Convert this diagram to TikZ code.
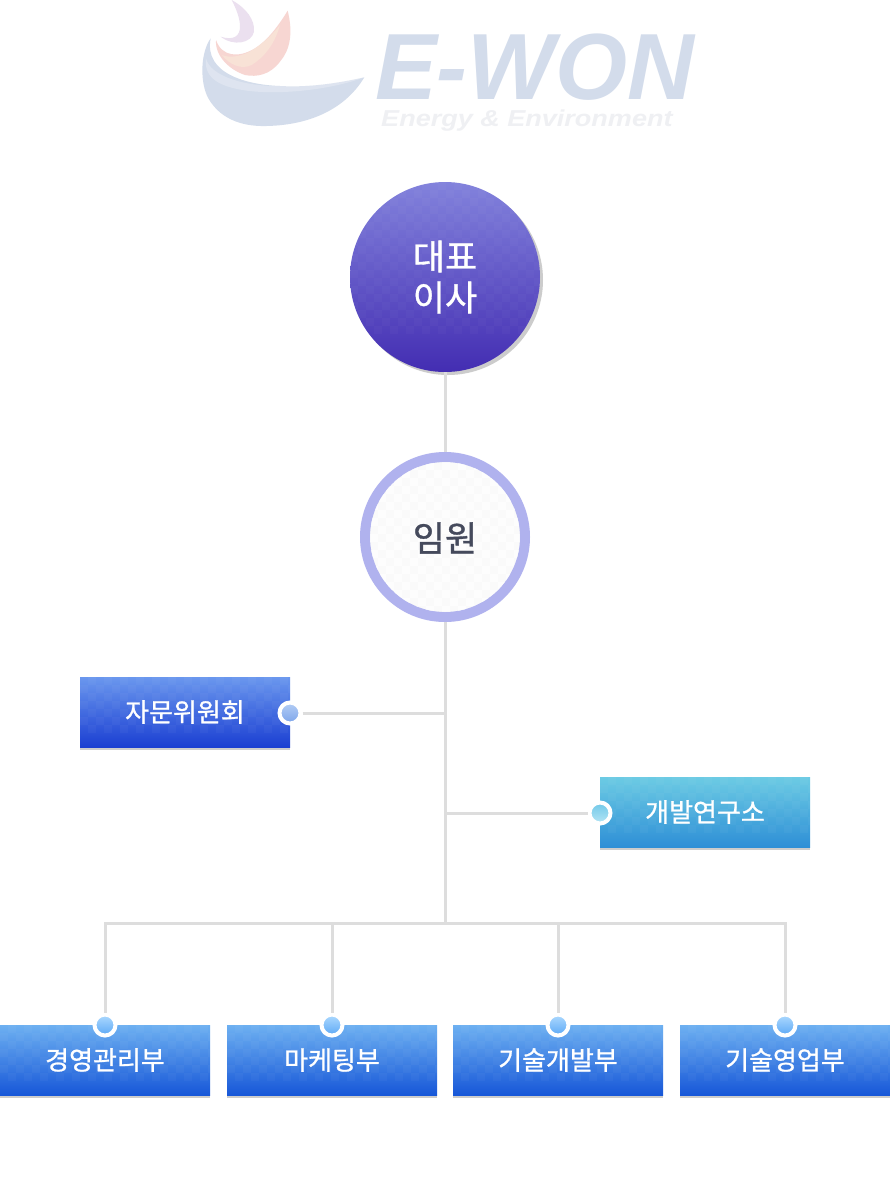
\documentclass[tikz,border=0pt]{standalone}
\usepackage{fontspec}
\setmainfont{Liberation Sans}
\newfontfamily\krfont[RawFeature={embolden=1.0}]{Noto Sans CJK KR}
\definecolor{linegray}{HTML}{DDDDDD}
\definecolor{edgegray}{HTML}{CCCCCC}
\definecolor{logoblue}{HTML}{D3DCEB}
\definecolor{logored}{HTML}{F7D6D2}
\definecolor{logoorange}{HTML}{F8E2D6}
\definecolor{logopurple}{HTML}{EBE0EF}
\definecolor{logogray}{HTML}{EFF0F3}
\definecolor{ceotop}{HTML}{8282DC}
\definecolor{ceomid}{HTML}{6563D0}
\definecolor{ceobot}{HTML}{432DB2}
\definecolor{ringblue}{HTML}{B0B2EE}
\definecolor{ringfill}{HTML}{FAFAFA}
\definecolor{textdark}{HTML}{454A5C}
\definecolor{advtop}{HTML}{6A97EE}
\definecolor{advmid}{HTML}{5683E8}
\definecolor{advbot}{HTML}{1B3FD2}
\definecolor{labtop}{HTML}{6CCBE4}
\definecolor{labmid}{HTML}{58B8E0}
\definecolor{labbot}{HTML}{2E8FD6}
\definecolor{deptop}{HTML}{6DB0F1}
\definecolor{depmid}{HTML}{5EA2EC}
\definecolor{depbot}{HTML}{1757D8}
\definecolor{advdottop}{HTML}{B4CEF5}
\definecolor{advdotbot}{HTML}{7CA4EA}
\definecolor{labdottop}{HTML}{70C8E8}
\definecolor{labdotbot}{HTML}{B5E5F5}
\definecolor{depdottop}{HTML}{AEDAFF}
\definecolor{depdotbot}{HTML}{5CA8F5}
\newcommand\checks[6]{%
  \begin{scope}
    \clip #1;
    \foreach \i in {0,...,#4}{\foreach \j in {0,...,#5}{%
      \ifodd\numexpr\i+\j\relax
        \fill[white,opacity=#6] ({#2+8*\i},{#3+8*\j}) rectangle ++(8,8);
      \fi}}
  \end{scope}}
\newcommand\boxlabel[1]{\raisebox{-2pt}{#1}}
\tikzset{
  x=1pt,y=-1pt,
  conn/.style={draw=linegray,line width=3pt},
  box/.style={rectangle,minimum width=210pt,minimum height=70pt,inner sep=0pt,outer sep=0pt,
    text=white,font=\krfont\fontsize{26}{30}\selectfont},
  advbox/.style={box,top color=advtop,middle color=advmid,bottom color=advbot},
  labbox/.style={box,top color=labtop,middle color=labmid,bottom color=labbot},
  depbox/.style={box,top color=deptop,middle color=depmid,bottom color=depbot},
  dot/.style={circle,draw=white,line width=4pt,minimum size=21pt,inner sep=0pt,outer sep=0pt},
  depdot/.style={dot,top color=depdottop,bottom color=depdotbot},
}
\begin{document}
\begin{tikzpicture}
\useasboundingbox (0,0) rectangle (890,1200);
\fill[white] (0,0) rectangle (890,1200);
% logo
\begin{scope}[shift={(180,0)},scale=1/3]
  \fill[logoblue] (92,115) .. controls (60,160) and (60,250) .. (85,295)
    .. controls (125,365) and (200,380) .. (260,378)
    .. controls (400,375) and (500,320) .. (553,232)
    .. controls (450,255) and (370,262) .. (300,258)
    .. controls (210,255) and (70,225) .. (92,115) -- cycle;
  \fill[white,opacity=.25] (78,175) .. controls (90,230) and (200,260) .. (300,258)
    .. controls (400,262) and (480,245) .. (553,232)
    .. controls (450,270) and (300,285) .. (200,272)
    .. controls (130,262) and (70,240) .. (78,175) -- cycle;
  \fill[logored] (323,32) .. controls (340,100) and (330,150) .. (300,185)
    .. controls (270,225) and (230,232) .. (195,225)
    .. controls (150,210) and (105,170) .. (108,120)
    .. controls (125,170) and (175,175) .. (225,145)
    .. controls (265,120) and (300,70) .. (323,32) -- cycle;
  \fill[logoorange] (300,75) .. controls (285,130) and (255,170) .. (215,195)
    .. controls (185,210) and (150,195) .. (125,165)
    .. controls (150,175) and (190,170) .. (225,145)
    .. controls (255,125) and (280,100) .. (300,75) -- cycle;
  \fill[logopurple] (155,0) .. controls (200,25) and (225,60) .. (222,95)
    .. controls (215,130) and (160,140) .. (122,110)
    .. controls (160,122) and (182,110) .. (180,75)
    .. controls (178,50) and (168,25) .. (155,0) -- cycle;
\end{scope}
\node[inner sep=0pt,anchor=base west,text=logoblue,font=\bfseries\itshape\fontsize{94}{94}\selectfont,xscale=.985] (brand) at (375,99) {E-WON};
\node[inner sep=0pt,anchor=base west,text=logogray,font=\bfseries\itshape\fontsize{23}{23}\selectfont,xscale=1.175] (tagline) at (381,126) {Energy \& Environment};
% CEO
\fill[edgegray] (448,280) circle (95);
\node[circle,minimum size=190pt,inner sep=0pt,outer sep=0pt,top color=ceotop,middle color=ceomid,bottom color=ceobot,
  text=white,align=center,font=\krfont\fontsize{35}{41}\selectfont] (ceo) at (445,277) {\raisebox{-1pt}{대표}\\\raisebox{-1pt}{이사}};
\checks{(445,277) circle (95)}{350}{182}{23}{18}{.025}
% officers
\node[circle,draw=ringblue,line width=10pt,minimum size=160pt,inner sep=0pt,outer sep=5pt,fill=ringfill] (imwon) at (445,537) {};
\checks{(445,537) circle (75)}{370}{462}{18}{18}{.6}
\node[text=textdark,font=\krfont\fontsize{35}{41}\selectfont] (imwontext) at (445,538) {임원};
% boxes
\fill[edgegray] (80,747) rectangle (290,750);
\fill[edgegray] (600,847) rectangle (810,850);
\foreach \xa in {0,227,453,680}{\fill[edgegray] (\xa,1095) rectangle ({\xa+210},1098);}
\node[advbox] (adv) at (185,712) {\boxlabel{자문위원회}};
\node[labbox] (lab) at (705,812) {\boxlabel{개발연구소}};
\node[depbox] (d1) at (105,1060) {\boxlabel{경영관리부}};
\node[depbox] (d2) at (332,1060) {\boxlabel{마케팅부}};
\node[depbox] (d3) at (558,1060) {\boxlabel{기술개발부}};
\node[depbox] (d4) at (785,1060) {\boxlabel{기술영업부}};
\checks{(80,677) rectangle (290,747)}{80}{677}{26}{6}{.03}
\checks{(600,777) rectangle (810,847)}{600}{777}{26}{6}{.03}
\foreach \xa in {0,227,453,680}{\checks{(\xa,1025) rectangle ({\xa+210},1095)}{\xa}{1025}{26}{6}{.03}}
% dots
\node[dot,top color=advdottop,bottom color=advdotbot] (advdot) at (290,713) {};
\node[dot,top color=labdottop,bottom color=labdotbot] (labdot) at (600,813) {};
\node[depdot] (d1dot) at (105,1025) {};
\node[depdot] (d2dot) at (332,1025) {};
\node[depdot] (d3dot) at (558,1025) {};
\node[depdot] (d4dot) at (785,1025) {};
% connectors
\coordinate (bus) at (445,923);
\coordinate (advj) at (445,713);
\coordinate (labj) at (445,813);
\draw[conn] (ceo) -- (imwon);
\draw[conn] (imwon) -- (bus);
\draw[conn,shorten <=2pt] (advdot) -- (advj);
\draw[conn,shorten <=2pt] (labdot) -- (labj);
\draw[conn,shorten <=2pt] (d1dot) |- (bus);
\draw[conn,shorten <=2pt] (d4dot) |- (bus);
\draw[conn,shorten <=2pt] (d2dot) -- (d2dot |- bus);
\draw[conn,shorten <=2pt] (d3dot) -- (d3dot |- bus);
\end{tikzpicture}
\end{document}
